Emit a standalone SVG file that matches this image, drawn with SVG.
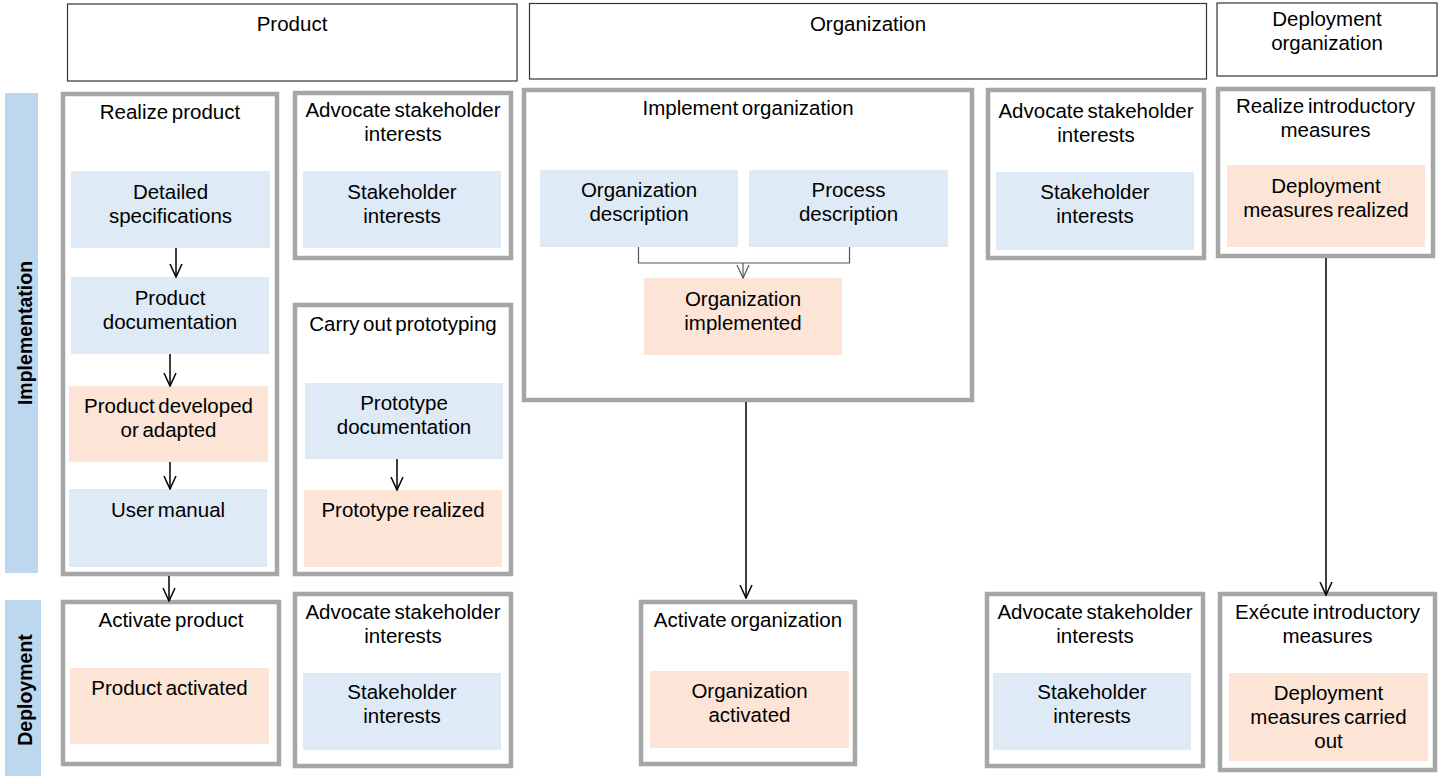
<svg xmlns="http://www.w3.org/2000/svg" width="1439" height="776" viewBox="0 0 1439 776">
<defs>
<style>
text{font-family:"Liberation Sans",Arial,Helvetica,sans-serif;font-size:20.5px;fill:#000;text-anchor:middle;word-spacing:-2px}
.side{font-weight:bold;font-size:19.5px;word-spacing:0}
.hdr{fill:#fff;stroke:#333;stroke-width:1.2}
.bar{fill:#BDD7EE}
.task{fill:#fff;stroke:#A6A6A6;stroke-width:4.5}
.blue{fill:#DEEAF6}
.peach{fill:#FCE4D6}
.arr{fill:none;stroke:#000;stroke-width:1.5}
.brk{fill:none;stroke:#555;stroke-width:1.2}
</style>
<marker id="ah" markerUnits="userSpaceOnUse" viewBox="0 0 14 14" refX="13" refY="7" markerWidth="14" markerHeight="14" orient="auto">
<path d="M0,1 L13,7 L0,13" fill="none" stroke="#000" stroke-width="1.5"/>
</marker>
<marker id="ahg" markerUnits="userSpaceOnUse" viewBox="0 0 14 14" refX="13" refY="7" markerWidth="14" markerHeight="14" orient="auto">
<path d="M0,1 L13,7 L0,13" fill="none" stroke="#555" stroke-width="1.2"/>
</marker>
</defs>
<rect width="1439" height="776" fill="#fff"/>

<g id="header-product"><rect class="hdr" x="67.5" y="4" width="449.5" height="77"/><text x="292" y="31">Product</text></g>
<g id="header-organization"><rect class="hdr" x="529.5" y="3.5" width="677" height="75.5"/><text x="868" y="31">Organization</text></g>
<g id="header-deployment-organization"><rect class="hdr" x="1217" y="3" width="220" height="73"/><text x="1327" y="26">Deployment</text><text x="1327" y="50">organization</text></g>

<g id="phase-implementation"><rect class="bar" x="5" y="93" width="33" height="480"/><text class="side" transform="translate(32,333) rotate(-90)">Implementation</text></g>
<g id="phase-deployment"><rect class="bar" x="5" y="600" width="36" height="176"/><text class="side" transform="translate(32,690) rotate(-90)">Deployment</text></g>

<g id="realize-product">
<rect class="task" x="63" y="94" width="214" height="480"/>
<text x="170" y="119">Realize product</text>
<g id="detailed-specifications"><rect class="blue" x="71" y="171" width="199" height="77"/><text x="170.5" y="199">Detailed</text><text x="170.5" y="223">specifications</text></g>
<g id="product-documentation"><rect class="blue" x="71" y="277" width="198" height="77"/><text x="170" y="305">Product</text><text x="170" y="329">documentation</text></g>
<g id="product-developed"><rect class="peach" x="69" y="386" width="199" height="76"/><text x="168.5" y="413">Product developed</text><text x="168.5" y="437">or adapted</text></g>
<g id="user-manual"><rect class="blue" x="69" y="489" width="198" height="78"/><text x="168" y="517">User manual</text></g>
</g>

<g id="advocate-product-impl">
<rect class="task" x="295" y="93" width="216" height="165"/>
<text x="403" y="117">Advocate stakeholder</text><text x="403" y="141">interests</text>
<g id="stakeholder-interests-1"><rect class="blue" x="303" y="171" width="198" height="77"/><text x="402" y="199">Stakeholder</text><text x="402" y="223">interests</text></g>
</g>

<g id="carry-out-prototyping">
<rect class="task" x="295" y="305" width="216" height="269"/>
<text x="403" y="331">Carry out prototyping</text>
<g id="prototype-documentation"><rect class="blue" x="305" y="383" width="198" height="76"/><text x="404" y="410">Prototype</text><text x="404" y="434">documentation</text></g>
<g id="prototype-realized"><rect class="peach" x="304" y="490" width="198" height="77"/><text x="403" y="517">Prototype realized</text></g>
</g>

<g id="activate-product">
<rect class="task" x="63" y="602" width="216" height="162"/>
<text x="171" y="627">Activate product</text>
<g id="product-activated"><rect class="peach" x="70" y="668" width="199" height="76"/><text x="169.5" y="695">Product activated</text></g>
</g>

<g id="advocate-product-depl">
<rect class="task" x="295" y="594" width="216" height="172"/>
<text x="403" y="619">Advocate stakeholder</text><text x="403" y="643">interests</text>
<g id="stakeholder-interests-2"><rect class="blue" x="303" y="673" width="198" height="77"/><text x="402" y="699">Stakeholder</text><text x="402" y="723">interests</text></g>
</g>

<g id="implement-organization">
<rect class="task" x="524" y="90" width="448" height="310"/>
<text x="748" y="115">Implement organization</text>
<g id="organization-description"><rect class="blue" x="540" y="170" width="198" height="77"/><text x="639" y="197">Organization</text><text x="639" y="221">description</text></g>
<g id="process-description"><rect class="blue" x="749" y="170" width="199" height="77"/><text x="848.5" y="197">Process</text><text x="848.5" y="221">description</text></g>
<g id="organization-implemented"><rect class="peach" x="644" y="278" width="198" height="77"/><text x="743" y="306">Organization</text><text x="743" y="330">implemented</text></g>
</g>

<g id="advocate-org-impl">
<rect class="task" x="988" y="90" width="216" height="168"/>
<text x="1096" y="118">Advocate stakeholder</text><text x="1096" y="142">interests</text>
<g id="stakeholder-interests-3"><rect class="blue" x="996" y="172" width="198" height="78"/><text x="1095" y="199">Stakeholder</text><text x="1095" y="223">interests</text></g>
</g>

<g id="realize-introductory-measures">
<rect class="task" x="1218" y="89" width="215" height="167"/>
<text x="1325.5" y="113">Realize introductory</text><text x="1325.5" y="137">measures</text>
<g id="deployment-measures-realized"><rect class="peach" x="1227" y="165" width="198" height="82"/><text x="1326" y="193">Deployment</text><text x="1326" y="217">measures realized</text></g>
</g>

<g id="activate-organization">
<rect class="task" x="641" y="602" width="214" height="162"/>
<text x="748" y="627">Activate organization</text>
<g id="organization-activated"><rect class="peach" x="650" y="671" width="199" height="77"/><text x="749.5" y="698">Organization</text><text x="749.5" y="722">activated</text></g>
</g>

<g id="advocate-org-depl">
<rect class="task" x="987" y="594" width="216" height="172"/>
<text x="1095" y="619">Advocate stakeholder</text><text x="1095" y="643">interests</text>
<g id="stakeholder-interests-4"><rect class="blue" x="993" y="673" width="198" height="77"/><text x="1092" y="699">Stakeholder</text><text x="1092" y="723">interests</text></g>
</g>

<g id="execute-introductory-measures">
<rect class="task" x="1220" y="594" width="215" height="176"/>
<text x="1327.5" y="619">Exécute introductory</text><text x="1327.5" y="643">measures</text>
<g id="deployment-measures-carried-out"><rect class="peach" x="1229" y="673" width="199" height="88"/><text x="1328.5" y="700">Deployment</text><text x="1328.5" y="724">measures carried</text><text x="1328.5" y="748">out</text></g>
</g>

<g id="connectors">
<line class="arr" x1="176" y1="248" x2="176" y2="277" marker-end="url(#ah)"/>
<line class="arr" x1="170" y1="354" x2="170" y2="386" marker-end="url(#ah)"/>
<line class="arr" x1="170" y1="462" x2="170" y2="489" marker-end="url(#ah)"/>
<line class="arr" x1="397" y1="459" x2="397" y2="490" marker-end="url(#ah)"/>
<line class="arr" x1="169" y1="576" x2="169" y2="601" marker-end="url(#ah)"/>
<path class="brk" d="M638.5,247 V263 H849.5 V247"/>
<line class="brk" x1="743" y1="263" x2="743" y2="278" marker-end="url(#ahg)"/>
<line class="arr" x1="746" y1="402" x2="746" y2="598" marker-end="url(#ah)"/>
<line class="arr" x1="1326" y1="258" x2="1326" y2="595" marker-end="url(#ah)"/>
</g>
</svg>
